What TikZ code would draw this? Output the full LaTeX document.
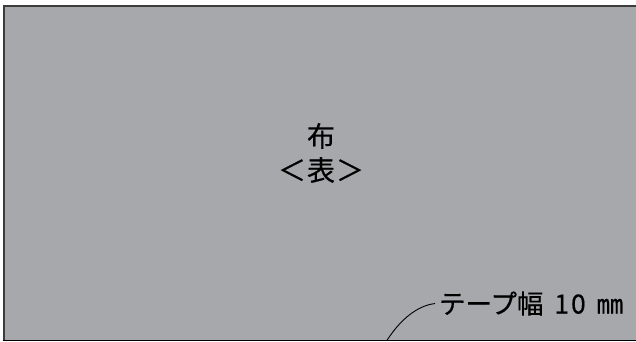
\documentclass[tikz,border=0pt]{standalone}
\usepackage{fontspec}
\newfontfamily\jp[FakeBold=0.5]{Noto Sans CJK JP}
\definecolor{cloth}{HTML}{A7A8AB}
\definecolor{edge}{HTML}{3C3C3C}
\tikzset{
  lbl/.style={font=\jp\fontsize{28}{34}\selectfont, text=black, inner sep=0pt, align=center},
  tapelbl/.style={font=\jp\fontsize{26.5}{30}\selectfont, text=black, inner sep=0pt, outer xsep=4pt, outer ysep=0pt, anchor=west},
  leader/.style={draw=black, line width=0.9pt}
}
\begin{document}
\begin{tikzpicture}[x=1pt,y=-1pt]
\useasboundingbox (0,0) rectangle (636,342);
\fill[white] (0,0) rectangle (636,342);
\fill[cloth] (3.5,6.5) rectangle (636,340);
\draw[edge, line width=2pt] (3.5,340) -- (3.5,6.5) -- (636,6.5);
\draw[black, line width=1.3pt] (2.5,340.3) -- (636,340.3);
\node[lbl] (cloth) at (321,153) {布\\＜\hspace{1pt}表\hspace{1pt}＞};
\node[tapelbl] (tape) at (435,303.5) {テープ幅 \hspace{5pt}1\hspace{2pt}0 \hspace{5pt}㎜};
\coordinate (foot) at (387,340.3);
\draw[leader] (tape.west) .. controls (422,305) and (404,314) .. (foot);
\end{tikzpicture}
\end{document}
